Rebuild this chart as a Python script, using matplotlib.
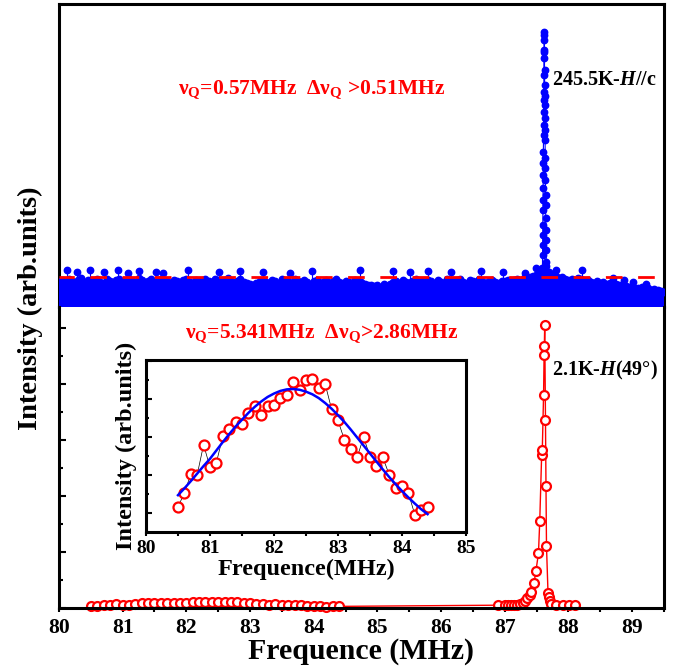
import numpy as np
import matplotlib.pyplot as plt
from matplotlib.ticker import MultipleLocator

plt.rcParams['font.family'] = ['Liberation Serif', 'DejaVu Serif']
plt.rcParams['font.weight'] = 'bold'
plt.rcParams['axes.labelweight'] = 'bold'
plt.rcParams['mathtext.fontset'] = 'custom'
plt.rcParams['mathtext.rm'] = 'Liberation Serif:bold'
plt.rcParams['mathtext.it'] = 'Liberation Serif:bold:italic'
plt.rcParams['mathtext.bf'] = 'Liberation Serif:bold'

# ---- 245.5 K, H//c : broad noise floor + one sharp line ----
noise_freq = np.round(np.arange(80.0, 89.501, 0.05), 2)
noise_int = [
    0.092, 0.098, 0.088, 0.101, 0.094, 0.086, 0.099, 0.104, 0.091, 0.097,
    0.085, 0.096, 0.103, 0.092, 0.088, 0.100, 0.095, 0.087, 0.098, 0.102,
    0.093, 0.089, 0.101, 0.096, 0.090, 0.104, 0.097, 0.088, 0.094, 0.100,
    0.086, 0.098, 0.103, 0.091, 0.095, 0.087, 0.099, 0.093, 0.085, 0.097,
    0.101, 0.092, 0.088, 0.098, 0.094, 0.086, 0.100, 0.095, 0.089, 0.103,
    0.097, 0.090, 0.099, 0.104, 0.093, 0.087, 0.096, 0.101, 0.091, 0.088,
    0.084, 0.079, 0.088, 0.093, 0.097, 0.090, 0.086, 0.099, 0.094, 0.088,
    0.101, 0.092, 0.096, 0.087, 0.100, 0.093, 0.089, 0.097, 0.091, 0.085,
    0.095, 0.099, 0.088, 0.092, 0.097, 0.086, 0.094, 0.100, 0.090, 0.087,
    0.096, 0.091, 0.085, 0.098, 0.093, 0.089, 0.083, 0.078, 0.081, 0.076,
    0.079, 0.074, 0.082, 0.077, 0.085, 0.090, 0.094, 0.088, 0.098, 0.092,
    0.087, 0.096, 0.101, 0.090, 0.095, 0.088, 0.099, 0.093, 0.086, 0.097,
    0.092, 0.088, 0.100, 0.095, 0.089, 0.097, 0.103, 0.091, 0.086, 0.098,
    0.094, 0.090, 0.101, 0.096, 0.088, 0.093, 0.099, 0.092, 0.087, 0.096,
    0.094, 0.099, 0.091, 0.097, 0.102, 0.095, 0.104, 0.099, 0.108, 0.112,
    0.118, 0.125, 0.140, 0.150, 0.128, 0.118, 0.112, 0.105, 0.109, 0.103,
    0.098, 0.102, 0.096, 0.105, 0.100, 0.094, 0.097, 0.091, 0.088, 0.093,
    0.086, 0.089, 0.084, 0.087, 0.091, 0.085, 0.080, 0.083, 0.077, 0.072,
    0.075, 0.070, 0.068, 0.072, 0.066, 0.069, 0.063, 0.067, 0.062, 0.058,
    0.055,
]
spike_freq = [80.12, 80.28, 80.48, 80.71, 80.92, 81.08, 81.26, 81.52, 81.64,
              82.02, 82.52, 82.85, 83.21, 83.63, 83.97, 84.73, 85.25, 85.52,
              85.80, 86.15, 86.63, 86.98, 87.32, 87.49, 87.80, 88.22, 88.70,
              88.87, 89.01, 89.22]
spike_int = [0.134, 0.126, 0.133, 0.128, 0.134, 0.125, 0.131, 0.126, 0.124,
             0.133, 0.128, 0.131, 0.127, 0.125, 0.129, 0.133, 0.132, 0.127,
             0.131, 0.126, 0.130, 0.128, 0.122, 0.140, 0.133, 0.134, 0.104,
             0.098, 0.090, 0.084]
line_freq = [87.590, 87.592, 87.594, 87.595, 87.597, 87.598, 87.600, 87.601,
             87.603, 87.604, 87.606, 87.607, 87.609, 87.610, 87.611, 87.613,
             87.614, 87.615, 87.616, 87.618, 87.619, 87.620,
             87.622, 87.624, 87.625, 87.627, 87.628, 87.630, 87.631, 87.633,
             87.634, 87.636, 87.637, 87.639, 87.641, 87.642, 87.644, 87.646,
             87.648, 87.650, 87.652, 87.655]
line_int = [0.098, 0.142, 0.189, 0.225, 0.261, 0.298, 0.352, 0.388, 0.432,
            0.479, 0.523, 0.563, 0.624, 0.661, 0.708, 0.751, 0.780, 0.842,
            0.904, 0.933, 0.969, 0.998,
            0.987, 0.926, 0.860, 0.806, 0.766, 0.733, 0.686, 0.643, 0.606,
            0.541, 0.505, 0.461, 0.407, 0.370, 0.323, 0.280, 0.243, 0.207,
            0.163, 0.116]
noise_level = 0.109

# ---- 2.1 K, H(49 deg) : broad satellite + sharp central line ----
sat_freq = [80.5, 80.6, 80.7, 80.8, 80.9, 81.0, 81.1, 81.2, 81.3, 81.4,
            81.5, 81.6, 81.7, 81.8, 81.9, 82.0, 82.1, 82.2, 82.3, 82.4,
            82.5, 82.6, 82.7, 82.8, 82.9, 83.0, 83.1, 83.2, 83.3, 83.4,
            83.5, 83.6, 83.7, 83.8, 83.9, 84.0, 84.1, 84.2, 84.3, 84.4]
sat_int = [1.17, 1.52, 2.03, 2.01, 2.80, 2.21, 2.33, 3.02, 3.21, 3.41,
           3.35, 3.63, 3.83, 3.59, 3.82, 3.85, 4.03, 4.11, 4.46, 4.24,
           4.51, 4.53, 4.29, 4.40, 3.74, 3.44, 2.93, 2.68, 2.47, 3.00,
           2.49, 2.23, 2.47, 2.01, 1.66, 1.70, 1.53, 0.96, 1.07, 1.16]
sat_fit = [1.47, 1.65, 1.84, 2.04, 2.24, 2.43, 2.65, 2.87, 3.08, 3.28,
           3.46, 3.64, 3.80, 3.94, 4.06, 4.15, 4.22, 4.26, 4.27, 4.25,
           4.20, 4.13, 4.03, 3.90, 3.75, 3.58, 3.40, 3.20, 2.99, 2.78,
           2.57, 2.36, 2.15, 1.95, 1.76, 1.58, 1.41, 1.25, 1.10, 0.97]
sat_scale = 0.025  # satellite intensity in main-panel units

central_freq = [86.90, 87.00, 87.05, 87.10, 87.15, 87.20, 87.24, 87.28, 87.32,
                87.35, 87.39, 87.42, 87.46, 87.49, 87.53, 87.55, 87.58, 87.59,
                87.61, 87.618, 87.622, 87.628, 87.64, 87.648, 87.656, 87.68,
                87.69, 87.71, 87.73, 87.81, 87.92, 88.01, 88.10]
central_int = [0.05, 0.05, 0.05, 0.05, 0.06, 0.06, 0.07, 0.09, 0.12,
               0.17, 0.23, 0.28, 0.45, 0.66, 0.98, 1.55, 2.74, 2.82,
               3.80, 4.51, 4.67, 5.05, 3.36, 2.17, 1.10, 0.26,
               0.19, 0.12, 0.08, 0.06, 0.05, 0.05, 0.05]

low_freq = sat_freq + central_freq
low_int = [v * sat_scale for v in sat_int] + central_int

BLUE = '#0000ff'
RED = '#ff0000'

fig = plt.figure(figsize=(6.89, 6.71), dpi=100)
ax_top = fig.add_axes([0.0856, 0.5425, 0.878, 0.4516])
ax_bot = fig.add_axes([0.0856, 0.0939, 0.878, 0.4486])
ax_in = fig.add_axes([0.2119, 0.2072, 0.4644, 0.2563])

for ax in (ax_top, ax_bot, ax_in):
    for sp in ax.spines.values():
        sp.set_linewidth(2.2)

# upper panel
ax_top.vlines(noise_freq, 0, noise_int, color=BLUE, lw=3.2, zorder=3,
              antialiased=False)
ax_top.plot(noise_freq, noise_int, 'o', color=BLUE, ms=4.6, zorder=3)
ax_top.vlines(spike_freq, 0, spike_int, color=BLUE, lw=0.8, zorder=3)
ax_top.plot(spike_freq, spike_int, 'o', color=BLUE, ms=4.6, zorder=3)
ax_top.plot(line_freq, line_int, '-o', color=BLUE, lw=0.8, ms=4.6, zorder=4)
ax_top.axhline(noise_level, color=RED, lw=2.0, ls=(0.5, (6, 5.6)), zorder=5)
ax_top.set_xlim(80, 89.5)
ax_top.set_ylim(0, 1.1)
ax_top.tick_params(left=False, bottom=False, labelleft=False, labelbottom=False)
ax_top.text(87.74, 0.824, r'245.5K-$\mathit{H}$//c', fontsize=14.5,
            ha='left', va='center')
ax_top.text(83.97, 0.79,
            r'$\mathrm{\nu_Q}$=0.57MHz  $\mathrm{\Delta\nu_Q}$ >0.51MHz',
            color=RED, fontsize=15.5, ha='center', va='center')

# lower panel
ax_bot.plot(low_freq, low_int, '-o', color=RED, lw=1.0, ms=6.4, mew=1.6,
            mfc='white', clip_on=False, zorder=2)
ax_bot.set_xlim(80, 89.5)
ax_bot.set_ylim(0, 5.375)
ax_bot.spines['top'].set_visible(False)
ax_bot.xaxis.set_major_locator(MultipleLocator(1))
ax_bot.xaxis.set_minor_locator(MultipleLocator(0.5))
ax_bot.yaxis.set_major_locator(MultipleLocator(1))
ax_bot.yaxis.set_minor_locator(MultipleLocator(0.5))
ax_bot.tick_params(axis='y', which='major', direction='in', length=5, width=1.5,
                   labelleft=False)
ax_bot.tick_params(axis='y', which='minor', direction='in', length=3, width=1.5)
ax_bot.tick_params(axis='x', which='both', direction='out', length=3, width=1.5,
                   labelsize=15.5, pad=4)
ax_bot.text(87.74, 4.25, r'2.1K-$\mathit{H}$(49°)', fontsize=14.5,
            ha='left', va='center')
ax_bot.text(84.12, 4.91,
            r'$\mathrm{\nu_Q}$=5.341MHz  $\mathrm{\Delta\nu_Q}$>2.86MHz',
            color=RED, fontsize=15.5, ha='center', va='center')
ax_bot.set_xlabel('Frequence (MHz)', fontsize=21.5, labelpad=0)
fig.text(0.044, 1 - 308 / 671, 'Intensity (arb.units)', fontsize=20.5,
         fontweight='bold', rotation=90, ha='center', va='center')

# inset: satellite with Gaussian fit
ax_in.plot(sat_freq, sat_int, '-', color='black', lw=0.5, zorder=1)
ax_in.plot(sat_freq, sat_int, 'o', color=RED, ms=7.2, mew=1.6, mfc='white',
           zorder=2)
ax_in.plot(sat_freq, sat_fit, '-', color=BLUE, lw=1.8, zorder=3)
ax_in.set_xlim(80, 85)
ax_in.set_ylim(0.5, 5.035)
ax_in.xaxis.set_major_locator(MultipleLocator(1))
ax_in.xaxis.set_minor_locator(MultipleLocator(0.5))
ax_in.yaxis.set_major_locator(MultipleLocator(1))
ax_in.yaxis.set_minor_locator(MultipleLocator(0.5))
ax_in.tick_params(axis='y', which='major', direction='in', length=4, width=1.5,
                  labelleft=False)
ax_in.tick_params(axis='y', which='minor', direction='in', length=2.5, width=1.5)
ax_in.tick_params(axis='x', which='both', direction='out', length=3, width=1.5,
                  labelsize=14, pad=3)
ax_in.set_xlabel('Frequence(MHz)', fontsize=17.5, labelpad=1)
ax_in.set_ylabel('Intensity (arb.units)', fontsize=17.5, labelpad=3)

fig.savefig('out.png', dpi=100)
